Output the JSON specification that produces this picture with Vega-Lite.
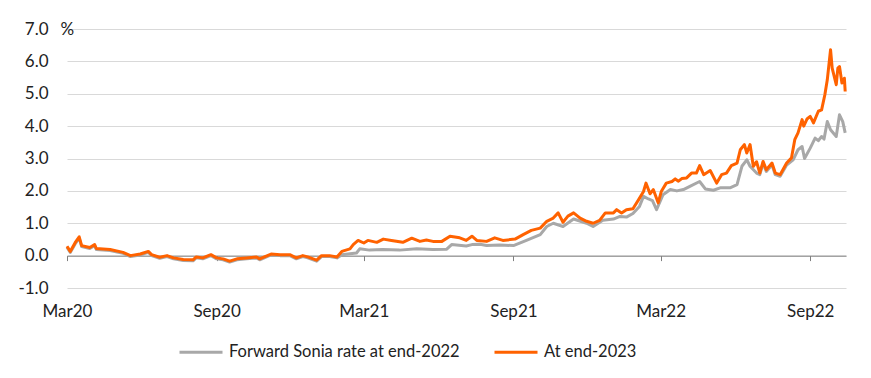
{
  "$schema": "https://vega.github.io/schema/vega-lite/v6.json",
  "width": 779,
  "height": 259,
  "autosize": {"type": "none"},
  "padding": {"left": 67, "top": 29, "right": 25, "bottom": 90},
  "config": {
    "font": "Lato",
    "view": {"stroke": null},
    "legend": {"padding": 0}
  },
  "datasets": {
    "g": [
      {"d":"2020-03-01","v":0.26},{"d":"2020-03-05","v":0.10},{"d":"2020-03-11","v":0.36},{"d":"2020-03-16","v":0.54},{"d":"2020-03-19","v":0.28},{"d":"2020-03-29","v":0.22},{"d":"2020-04-04","v":0.31},{"d":"2020-04-06","v":0.19},{"d":"2020-04-23","v":0.16},{"d":"2020-05-09","v":0.07},{"d":"2020-05-18","v":-0.03},{"d":"2020-05-30","v":0.02},{"d":"2020-06-09","v":0.10},{"d":"2020-06-13","v":0.00},{"d":"2020-06-23","v":-0.08},{"d":"2020-07-02","v":-0.03},{"d":"2020-07-10","v":-0.10},{"d":"2020-07-22","v":-0.15},{"d":"2020-08-03","v":-0.16},{"d":"2020-08-07","v":-0.07},{"d":"2020-08-15","v":-0.10},{"d":"2020-08-25","v":0.00},{"d":"2020-09-01","v":-0.10},{"d":"2020-09-09","v":-0.13},{"d":"2020-09-17","v":-0.20},{"d":"2020-09-26","v":-0.13},{"d":"2020-10-08","v":-0.10},{"d":"2020-10-20","v":-0.07},{"d":"2020-10-24","v":-0.13},{"d":"2020-11-07","v":0.02},{"d":"2020-11-18","v":0.00},{"d":"2020-11-30","v":0.00},{"d":"2020-12-08","v":-0.10},{"d":"2020-12-16","v":-0.03},{"d":"2020-12-22","v":-0.07},{"d":"2021-01-02","v":-0.17},{"d":"2021-01-08","v":-0.03},{"d":"2021-01-18","v":-0.03},{"d":"2021-01-27","v":-0.07},{"d":"2021-02-02","v":0.03},{"d":"2021-02-12","v":0.06},{"d":"2021-02-20","v":0.08},{"d":"2021-02-24","v":0.21},{"d":"2021-03-08","v":0.17},{"d":"2021-03-24","v":0.19},{"d":"2021-04-14","v":0.17},{"d":"2021-05-05","v":0.21},{"d":"2021-05-25","v":0.19},{"d":"2021-06-11","v":0.20},{"d":"2021-06-17","v":0.34},{"d":"2021-07-05","v":0.30},{"d":"2021-07-12","v":0.34},{"d":"2021-07-22","v":0.35},{"d":"2021-07-30","v":0.31},{"d":"2021-08-15","v":0.33},{"d":"2021-09-01","v":0.31},{"d":"2021-09-17","v":0.47},{"d":"2021-10-04","v":0.65},{"d":"2021-10-12","v":0.90},{"d":"2021-10-20","v":1.00},{"d":"2021-11-01","v":0.90},{"d":"2021-11-14","v":1.13},{"d":"2021-11-30","v":1.00},{"d":"2021-12-08","v":0.90},{"d":"2021-12-20","v":1.09},{"d":"2022-01-02","v":1.13},{"d":"2022-01-10","v":1.21},{"d":"2022-01-18","v":1.19},{"d":"2022-01-26","v":1.30},{"d":"2022-02-03","v":1.52},{"d":"2022-02-08","v":1.83},{"d":"2022-02-14","v":1.75},{"d":"2022-02-19","v":1.70},{"d":"2022-02-24","v":1.42},{"d":"2022-03-04","v":1.88},{"d":"2022-03-13","v":2.04},{"d":"2022-03-21","v":2.00},{"d":"2022-03-29","v":2.04},{"d":"2022-04-06","v":2.14},{"d":"2022-04-18","v":2.29},{"d":"2022-04-25","v":2.06},{"d":"2022-05-05","v":2.02},{"d":"2022-05-14","v":2.10},{"d":"2022-05-26","v":2.10},{"d":"2022-06-03","v":2.19},{"d":"2022-06-09","v":2.76},{"d":"2022-06-15","v":2.96},{"d":"2022-06-19","v":2.76},{"d":"2022-06-27","v":2.55},{"d":"2022-07-01","v":2.50},{"d":"2022-07-05","v":2.85},{"d":"2022-07-09","v":2.60},{"d":"2022-07-16","v":2.80},{"d":"2022-07-20","v":2.50},{"d":"2022-07-26","v":2.45},{"d":"2022-08-03","v":2.80},{"d":"2022-08-11","v":2.96},{"d":"2022-08-17","v":3.27},{"d":"2022-08-22","v":3.37},{"d":"2022-08-25","v":3.00},{"d":"2022-09-01","v":3.32},{"d":"2022-09-07","v":3.63},{"d":"2022-09-11","v":3.55},{"d":"2022-09-15","v":3.68},{"d":"2022-09-18","v":3.60},{"d":"2022-09-22","v":4.14},{"d":"2022-09-26","v":3.89},{"d":"2022-10-03","v":3.68},{"d":"2022-10-07","v":4.35},{"d":"2022-10-11","v":4.14},{"d":"2022-10-14","v":3.79}
    ],
    "o": [
      {"d":"2020-03-01","v":0.29},{"d":"2020-03-05","v":0.13},{"d":"2020-03-11","v":0.40},{"d":"2020-03-16","v":0.58},{"d":"2020-03-19","v":0.31},{"d":"2020-03-29","v":0.25},{"d":"2020-04-04","v":0.34},{"d":"2020-04-06","v":0.22},{"d":"2020-04-23","v":0.19},{"d":"2020-05-09","v":0.10},{"d":"2020-05-18","v":0.00},{"d":"2020-05-30","v":0.05},{"d":"2020-06-09","v":0.13},{"d":"2020-06-13","v":0.03},{"d":"2020-06-23","v":-0.05},{"d":"2020-07-02","v":0.00},{"d":"2020-07-10","v":-0.07},{"d":"2020-07-22","v":-0.12},{"d":"2020-08-03","v":-0.13},{"d":"2020-08-07","v":-0.04},{"d":"2020-08-15","v":-0.07},{"d":"2020-08-25","v":0.03},{"d":"2020-09-01","v":-0.07},{"d":"2020-09-09","v":-0.10},{"d":"2020-09-17","v":-0.17},{"d":"2020-09-26","v":-0.10},{"d":"2020-10-08","v":-0.07},{"d":"2020-10-20","v":-0.04},{"d":"2020-10-24","v":-0.10},{"d":"2020-11-07","v":0.05},{"d":"2020-11-18","v":0.03},{"d":"2020-11-30","v":0.03},{"d":"2020-12-08","v":-0.07},{"d":"2020-12-16","v":0.00},{"d":"2020-12-22","v":-0.04},{"d":"2021-01-02","v":-0.14},{"d":"2021-01-08","v":0.00},{"d":"2021-01-18","v":0.00},{"d":"2021-01-27","v":-0.04},{"d":"2021-02-02","v":0.13},{"d":"2021-02-12","v":0.21},{"d":"2021-02-16","v":0.34},{"d":"2021-02-22","v":0.47},{"d":"2021-03-01","v":0.39},{"d":"2021-03-06","v":0.47},{"d":"2021-03-17","v":0.41},{"d":"2021-03-25","v":0.51},{"d":"2021-04-04","v":0.47},{"d":"2021-04-18","v":0.41},{"d":"2021-04-29","v":0.54},{"d":"2021-05-09","v":0.44},{"d":"2021-05-17","v":0.48},{"d":"2021-05-25","v":0.44},{"d":"2021-06-05","v":0.44},{"d":"2021-06-15","v":0.60},{"d":"2021-06-27","v":0.55},{"d":"2021-07-05","v":0.47},{"d":"2021-07-12","v":0.60},{"d":"2021-07-18","v":0.47},{"d":"2021-07-30","v":0.44},{"d":"2021-08-09","v":0.55},{"d":"2021-08-19","v":0.47},{"d":"2021-09-03","v":0.51},{"d":"2021-09-13","v":0.65},{"d":"2021-09-23","v":0.78},{"d":"2021-10-04","v":0.85},{"d":"2021-10-12","v":1.06},{"d":"2021-10-20","v":1.16},{"d":"2021-10-26","v":1.32},{"d":"2021-11-01","v":1.03},{"d":"2021-11-07","v":1.22},{"d":"2021-11-14","v":1.32},{"d":"2021-11-22","v":1.16},{"d":"2021-11-30","v":1.06},{"d":"2021-12-08","v":1.00},{"d":"2021-12-16","v":1.09},{"d":"2021-12-23","v":1.32},{"d":"2022-01-02","v":1.32},{"d":"2022-01-06","v":1.42},{"d":"2022-01-12","v":1.32},{"d":"2022-01-18","v":1.42},{"d":"2022-01-26","v":1.45},{"d":"2022-02-02","v":1.73},{"d":"2022-02-08","v":1.98},{"d":"2022-02-11","v":2.24},{"d":"2022-02-16","v":1.91},{"d":"2022-02-20","v":2.04},{"d":"2022-02-26","v":1.63},{"d":"2022-03-02","v":1.99},{"d":"2022-03-08","v":2.24},{"d":"2022-03-15","v":2.29},{"d":"2022-03-19","v":2.37},{"d":"2022-03-23","v":2.30},{"d":"2022-03-27","v":2.38},{"d":"2022-04-02","v":2.40},{"d":"2022-04-08","v":2.55},{"d":"2022-04-14","v":2.55},{"d":"2022-04-18","v":2.78},{"d":"2022-04-23","v":2.50},{"d":"2022-05-01","v":2.63},{"d":"2022-05-09","v":2.24},{"d":"2022-05-15","v":2.50},{"d":"2022-05-21","v":2.55},{"d":"2022-05-27","v":2.78},{"d":"2022-06-03","v":2.86},{"d":"2022-06-07","v":3.27},{"d":"2022-06-12","v":3.43},{"d":"2022-06-15","v":3.17},{"d":"2022-06-19","v":3.43},{"d":"2022-06-23","v":2.76},{"d":"2022-06-27","v":2.90},{"d":"2022-07-01","v":2.55},{"d":"2022-07-05","v":2.91},{"d":"2022-07-09","v":2.65},{"d":"2022-07-16","v":2.86},{"d":"2022-07-20","v":2.55},{"d":"2022-07-26","v":2.50},{"d":"2022-08-03","v":2.86},{"d":"2022-08-09","v":3.02},{"d":"2022-08-13","v":3.58},{"d":"2022-08-17","v":3.79},{"d":"2022-08-22","v":4.20},{"d":"2022-08-24","v":4.00},{"d":"2022-08-28","v":4.22},{"d":"2022-09-01","v":4.30},{"d":"2022-09-05","v":4.10},{"d":"2022-09-11","v":4.46},{"d":"2022-09-15","v":4.50},{"d":"2022-09-19","v":4.97},{"d":"2022-09-22","v":5.43},{"d":"2022-09-26","v":6.36},{"d":"2022-09-28","v":5.79},{"d":"2022-10-03","v":5.28},{"d":"2022-10-05","v":5.79},{"d":"2022-10-07","v":5.84},{"d":"2022-10-10","v":5.33},{"d":"2022-10-13","v":5.48},{"d":"2022-10-14","v":5.07}
    ]
  },
  "encoding": {
    "x": {
      "field": "d",
      "type": "temporal",
      "scale": {"type": "utc", "domain": [{"year": 2020, "month": 3, "date": 1, "utc": true}, {"year": 2022, "month": 10, "date": 15, "utc": true}]},
      "axis": {
        "title": null,
        "values": [
          {"year": 2020, "month": 3, "date": 1, "utc": true},
          {"year": 2020, "month": 9, "date": 1, "utc": true},
          {"year": 2021, "month": 3, "date": 1, "utc": true},
          {"year": 2021, "month": 9, "date": 1, "utc": true},
          {"year": 2022, "month": 3, "date": 1, "utc": true},
          {"year": 2022, "month": 9, "date": 1, "utc": true}
        ],
        "labelExpr": "utcFormat(datum.value, '%b%y')",
        "offset": -32.4,
        "tickSize": 5,
        "labelPadding": 43,
        "labelFontSize": 17,
        "labelColor": "#222222",
        "labelFlush": false,
        "labelOverlap": false,
        "domainColor": "#7f7f7f",
        "tickColor": "#7f7f7f",
        "grid": false
      }
    },
    "y": {
      "field": "v",
      "type": "quantitative",
      "scale": {"domain": [-1, 7], "nice": false, "zero": false},
      "axis": {
        "values": [-1, 0, 1, 2, 3, 4, 5, 6, 7],
        "labelExpr": "(datum.value < 0 ? '-' : '') + format(abs(datum.value), '.1f')",
        "domain": false,
        "ticks": false,
        "grid": true,
        "gridColor": "#d9d9d9",
        "gridWidth": 1,
        "labelPadding": 19,
        "labelFontSize": 17,
        "labelColor": "#222222",
        "title": "%",
        "titleAngle": 0,
        "titleX": -7,
        "titleY": 0,
        "titleAlign": "left",
        "titleBaseline": "middle",
        "titleFontSize": 17,
        "titleFontWeight": "normal",
        "titleColor": "#222222"
      }
    }
  },
  "layer": [
    {
      "data": {"name": "g"},
      "mark": {"type": "line", "strokeWidth": 3, "strokeJoin": "round"},
      "encoding": {
        "color": {
          "datum": "Forward Sonia rate at end-2022",
          "type": "nominal",
          "scale": {"domain": ["Forward Sonia rate at end-2022", "At end-2023"], "range": ["#a8a8a8", "#ff6200"]},
          "legend": {
            "title": null,
            "orient": "none",
            "legendX": 111,
            "legendY": 300,
            "direction": "horizontal",
            "symbolType": "stroke",
            "symbolSize": 1849,
            "symbolStrokeWidth": 3,
            "labelFontSize": 16.5,
            "labelColor": "#222222",
            "labelOffset": 5,
            "labelLimit": 400,
            "columnPadding": 28
          }
        }
      }
    },
    {
      "data": {"name": "o"},
      "mark": {"type": "line", "strokeWidth": 3, "strokeJoin": "round"},
      "encoding": {
        "color": {"datum": "At end-2023", "type": "nominal"}
      }
    }
  ]
}
